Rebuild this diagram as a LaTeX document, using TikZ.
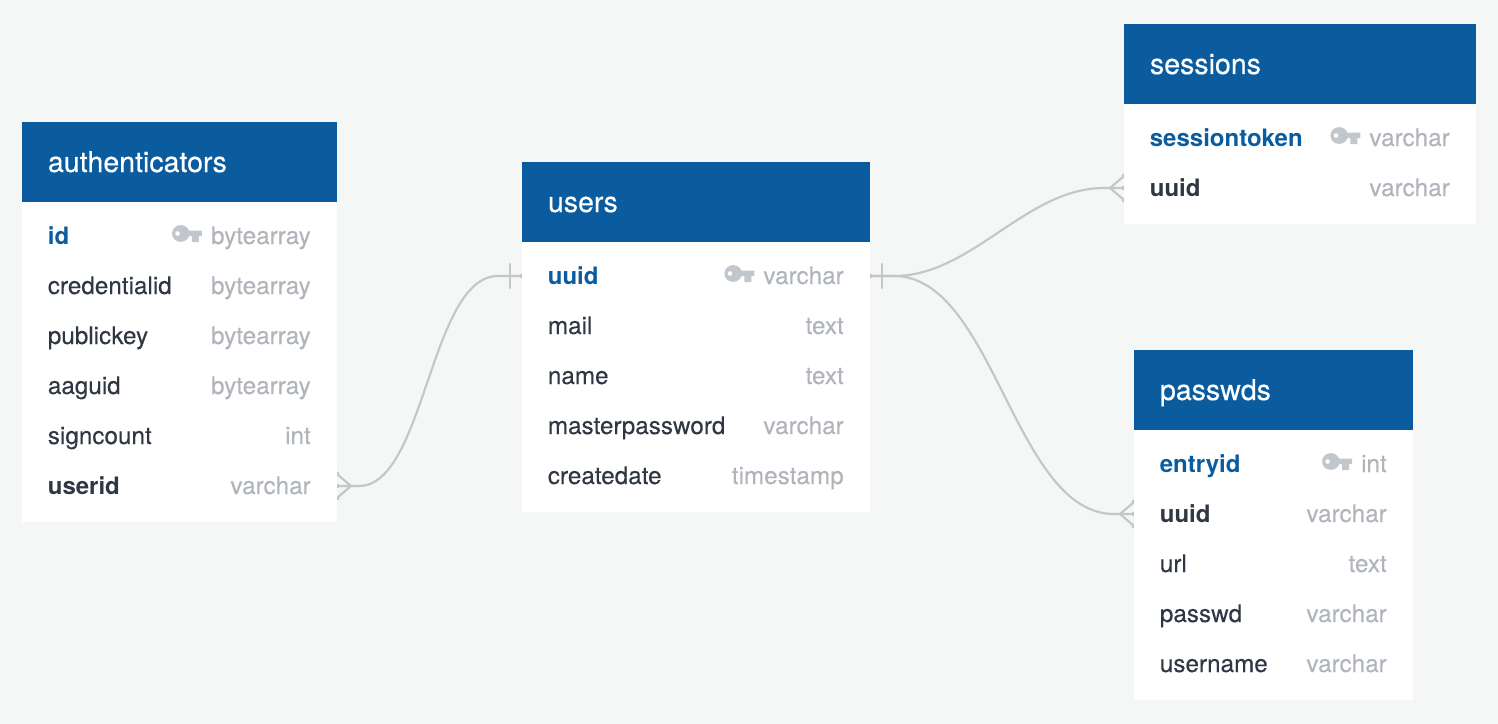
\documentclass[tikz,border=0pt]{standalone}
\usepackage{fontspec}
\setmainfont{TeX Gyre Heros}
\newfontfamily\rowfont[FakeBold=0.12]{TeX Gyre Heros}
\newfontfamily\titlefont[FakeBold=0.45]{TeX Gyre Heros}
\usetikzlibrary{calc}
\definecolor{paper}{HTML}{F5F7F7}
\definecolor{head}{HTML}{0A5C9F}
\definecolor{ink}{HTML}{2F3742}
\definecolor{typeink}{HTML}{B0B5BB}
\definecolor{keyink}{HTML}{C2C7CD}
\definecolor{link}{HTML}{C5C7C7}
\pgfdeclarelayer{paperlayer}
\pgfdeclarelayer{linklayer}
\pgfsetlayers{paperlayer,linklayer,main}
\tikzset{
  box/.style={inner sep=0pt,outer sep=0pt,anchor=north west},
  headbox/.style={box,fill=head},
  bodybox/.style={box,fill=white},
  rowbox/.style={inner sep=0pt,outer sep=0pt},
  title/.style={text=white,inner sep=0pt,anchor=base west,font=\titlefont\fontsize{21.4}{21.4}\selectfont},
  fieldname/.style={text=ink,inner sep=0pt,anchor=base west,font=\rowfont\fontsize{18.2}{18.2}\selectfont},
  keyfield/.style={fieldname,text=head,font=\normalfont\fontsize{18}{18}\selectfont\bfseries},
  fkfield/.style={fieldname,font=\normalfont\fontsize{18}{18}\selectfont\bfseries},
  fieldtype/.style={text=typeink,inner sep=0pt,anchor=base east,font=\rowfont\fontsize{18.2}{18.2}\selectfont},
  rel/.style={draw=link,line width=1.6pt,line cap=round},
}
\newcommand{\tbl}[6]{% id x1 x2 ytop ybot title
  \pgfmathsetmacro{\tw}{(#3-#2)*0.75}
  \pgfmathsetmacro{\hh}{60}
  \pgfmathsetmacro{\bh}{(#5-#4-80)*0.75}
  \node[headbox,minimum width=\tw pt,minimum height=\hh pt] (#1head) at (#2,#4) {};
  \node[bodybox,minimum width=\tw pt,minimum height=\bh pt] (#1body) at (#2,{#4+80}) {};
  \node[title] (#1title) at ({#2+25.7},{#4+50}) {#6};
}
\newcommand{\rowline}[7]{% id x1 x2 y style name type
  \pgfmathsetmacro{\tw}{(#3-#2)*0.75}
  \node[rowbox,minimum width=\tw pt,minimum height=37.5pt] (#1) at ({(#2+#3)/2},#4) {};
  \node[#5] (#1name) at ({#2+25.6},{#4+8}) {#6};
  \node[fieldtype] (#1type) at ({#3-26},{#4+8}) {#7};
}
\newcommand{\keyicon}[1]{% type node
  \begin{scope}[shift={(#1.base west)},shift={(-38.8,-7.5)}]
    \fill[keyink,even odd rule] (8.8,-3) circle [x radius=8.8,y radius=8.4] (5.6,-3) circle (2.4);
    \fill[keyink] (13,-6) -- (30,-6) -- (30,-0.5) -- (27,-0.5) -- (27,5.5) -- (20,5.5) -- (20,-0.5) -- (13,-0.5) -- cycle;
  \end{scope}
}
\newcommand{\crow}[2]{% row end, dx to the vertex
  \fill[link] (#1) circle (2.4);
  \fill[link] ($(#1)+(0,-12)$) circle (2.4);
  \fill[link] ($(#1)+(0,12)$) circle (2.4);
  \draw[rel] ($(#1)+(#2,0)$) -- (#1);
  \draw[rel] ($(#1)+(#2,0)$) -- ($(#1)+(0,-12)$);
  \draw[rel] ($(#1)+(#2,0)$) -- ($(#1)+(0,12)$);
}
\begin{document}
\begin{tikzpicture}[x=0.75pt,y=-0.75pt]
\useasboundingbox (0,0) rectangle (1498,724);
\begin{pgfonlayer}{paperlayer}
  \fill[paper] (0,0) rectangle (1498,724);
\end{pgfonlayer}

\tbl{auth}{22}{337}{122}{522}{authenticators}
\rowline{authid}{22}{337}{236}{keyfield}{id}{bytearray}
\rowline{authcred}{22}{337}{286}{fieldname}{credentialid}{bytearray}
\rowline{authpub}{22}{337}{336}{fieldname}{publickey}{bytearray}
\rowline{authaag}{22}{337}{386}{fieldname}{aaguid}{bytearray}
\rowline{authsign}{22}{337}{436}{fieldname}{signcount}{int}
\rowline{authuser}{22}{337}{486}{fkfield}{userid}{varchar}
\keyicon{authidtype}

\tbl{users}{522}{870}{162}{512}{users}
\rowline{usersuuid}{522}{870}{276}{keyfield}{uuid}{varchar}
\rowline{usersmail}{522}{870}{326}{fieldname}{mail}{text}
\rowline{usersname}{522}{870}{376}{fieldname}{name}{text}
\rowline{usersmaster}{522}{870}{426}{fieldname}{masterpassword}{varchar}
\rowline{userscreate}{522}{870}{476}{fieldname}{createdate}{timestamp}
\keyicon{usersuuidtype}

\tbl{sess}{1124}{1476}{24}{224}{sessions}
\rowline{sesstoken}{1124}{1476}{138}{keyfield}{sessiontoken}{varchar}
\rowline{sessuuid}{1124}{1476}{188}{fkfield}{uuid}{varchar}
\keyicon{sesstokentype}

\tbl{pass}{1134}{1413}{350}{700}{passwds}
\rowline{passentry}{1134}{1413}{464}{keyfield}{entryid}{int}
\rowline{passuuid}{1134}{1413}{514}{fkfield}{uuid}{varchar}
\rowline{passurl}{1134}{1413}{564}{fieldname}{url}{text}
\rowline{passpw}{1134}{1413}{614}{fieldname}{passwd}{varchar}
\rowline{passuser}{1134}{1413}{664}{fieldname}{username}{varchar}
\keyicon{passentrytype}

\begin{pgfonlayer}{linklayer}
  % authenticators -- users
  \draw[rel] (authuser.east) -- ++(22,0) .. controls +(66,0) and +(-68,0) .. ($(usersuuid.west)+(-24,0)$) -- (usersuuid.west);
  \crow{authuser.east}{14}
  \draw[rel] ($(usersuuid.west)+(-12,-12)$) -- ($(usersuuid.west)+(-12,12)$);
  \fill[link] (usersuuid.west) circle (2.4);
  % users -- sessions
  \draw[rel] (usersuuid.east) -- ++(24,0) .. controls +(78,0) and +(-78,0) .. ($(sessuuid.west)+(-20,0)$) -- (sessuuid.west);
  \crow{sessuuid.west}{-14}
  \draw[rel] ($(usersuuid.east)+(12,-12)$) -- ($(usersuuid.east)+(12,12)$);
  \fill[link] (usersuuid.east) circle (2.4);
  % users -- passwds
  \draw[rel] (usersuuid.east) -- ++(24,0) .. controls +(100,0) and +(-100,0) .. ($(passuuid.west)+(-20,0)$) -- (passuuid.west);
  \crow{passuuid.west}{-14}
\end{pgfonlayer}
\end{tikzpicture}
\end{document}
